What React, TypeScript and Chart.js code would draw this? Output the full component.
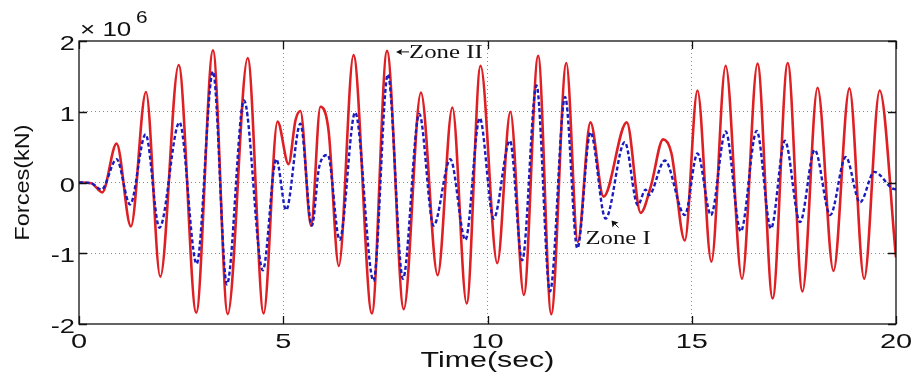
import React, { useEffect, useRef } from "react";
import { Chart, registerables } from "chart.js";

Chart.register(...registerables);

// Time axis (sec) for the red solid series (extrema)
const redTime = [
  0, 0.3, 0.57, 0.92, 1.27, 1.64, 1.99, 2.44, 2.87, 3.28, 3.64, 4.13, 4.52, 4.86,
  5.13, 5.3, 5.42, 5.68, 5.91, 6.11, 6.36, 6.72, 7.17, 7.54, 7.95, 8.37, 8.78, 9.14,
  9.49, 9.83, 10.24, 10.56, 10.89, 11.24, 11.56, 11.93, 12.21, 12.52, 12.84, 13.41,
  13.75, 14.0, 14.3, 14.5, 14.83, 15.14, 15.48, 15.83, 16.23, 16.61, 16.98, 17.35,
  17.71, 18.08, 18.47, 18.86, 19.22, 19.6, 20.0,
];
// Forces (×10^6 kN), red solid series
const redForce = [
  0, -0.01, -0.14, 0.55, -0.62, 1.28, -1.33, 1.66, -1.84, 1.87, -1.86, 1.76, -1.85, 0.86,
  0.26, 0.88, 1.01, -0.61, 1.07, 0.73, -1.18, 1.8, -1.85, 1.86, -1.79, 1.27, -1.31, 1.06,
  -1.71, 1.65, -1.14, 1.0, -1.59, 1.79, -1.86, 1.69, -0.84, 0.85, -0.2, 0.85,
  -0.43, -0.05, 0.61, 0.42, -0.82, 1.3, -1.12, 1.65, -1.36, 1.68, -1.64, 1.69,
  -1.54, 1.34, -1.25, 1.33, -1.36, 1.3, -1.06,
];

// Time axis (sec) for the blue dashed series
const blueTime = [
  0, 0.3, 0.55, 0.92, 1.25, 1.63, 1.97, 2.46, 2.88, 3.28, 3.62, 4.04, 4.5, 4.83,
  5.07, 5.42, 5.7, 5.88, 6.09, 6.38, 6.76, 7.21, 7.56, 7.93, 8.33, 8.68, 9.09, 9.46,
  9.81, 10.15, 10.55, 10.85, 11.2, 11.53, 11.9, 12.2, 12.52, 12.89, 13.36, 13.68,
  13.87, 13.95, 14.34, 14.83, 15.14, 15.47, 15.83, 16.2, 16.59, 16.94, 17.28, 17.65,
  18.01, 18.39, 18.77, 19.12, 19.47, 19.9, 20.0,
];
// Forces (×10^6 kN), blue dashed series
const blueForce = [
  0, -0.01, -0.1, 0.33, -0.31, 0.68, -0.64, 0.85, -1.15, 1.57, -1.44, 1.16, -1.24, 0.33,
  -0.39, 0.83, -0.61, 0.22, 0.39, -0.81, 0.99, -1.39, 1.53, -1.36, 0.97, -0.61, 0.33, -0.81,
  0.91, -0.51, 0.59, -1.1, 1.37, -1.54, 1.21, -0.93, 0.71, -0.51, 0.57, -0.32,
  -0.1, -0.18, 0.31, -0.46, 0.41, -0.46, 0.72, -0.69, 0.73, -0.65, 0.59, -0.56,
  0.46, -0.46, 0.36, -0.28, 0.15, -0.08, -0.1,
];

const xTicks = [0, 5, 10, 15, 20];
const yTicks = [-2, -1, 0, 1, 2];
const xTitle = "Time(sec)";
const yTitle = "Forces(kN)";
const yExponentBase = "× 10";
const yExponent = "6";
const zoneTwoLabel = "Zone II";
const zoneTwoPoint = { t: 7.54, v: 1.86 };
const zoneOneLabel = "Zone I";
const zoneOnePoint = { t: 12.89, v: -0.51 };

function drawText(
  ctx: CanvasRenderingContext2D,
  text: string,
  x: number,
  y: number,
  font: string,
  sx: number,
  align: CanvasTextAlign,
  rot = 0
) {
  ctx.save();
  ctx.translate(x, y);
  if (rot) ctx.rotate(rot);
  ctx.scale(sx, 1);
  ctx.font = font;
  ctx.textAlign = align;
  ctx.textBaseline = "alphabetic";
  ctx.fillStyle = "#111";
  ctx.fillText(text, 0, 0);
  ctx.restore();
}

export default function App() {
  const ref = useRef<HTMLCanvasElement>(null);

  useEffect(() => {
    const canvas = ref.current!;

    const framePlugin = {
      id: "matlabFrame",
      afterDraw(chart: any) {
        const { ctx, chartArea: a, scales } = chart;
        const xs = scales.x;
        const ys = scales.y;
        ctx.save();
        ctx.strokeStyle = "#111";
        ctx.lineWidth = 1.3;
        ctx.strokeRect(a.left, a.top, a.right - a.left, a.bottom - a.top);
        // inward tick marks
        const tl = 8;
        ctx.beginPath();
        xTicks.forEach((t) => {
          const px = Math.round(xs.getPixelForValue(t)) + 0.5;
          ctx.moveTo(px, a.bottom);
          ctx.lineTo(px, a.bottom - tl);
          ctx.moveTo(px, a.top);
          ctx.lineTo(px, a.top + tl);
        });
        yTicks.forEach((v) => {
          const py = Math.round(ys.getPixelForValue(v)) + 0.5;
          ctx.moveTo(a.left, py);
          ctx.lineTo(a.left + tl, py);
          ctx.moveTo(a.right, py);
          ctx.lineTo(a.right - tl, py);
        });
        ctx.stroke();

        // tick labels
        const tickFont = "21px 'Liberation Sans', Arial, sans-serif";
        xTicks.forEach((t) => {
          drawText(ctx, String(t), xs.getPixelForValue(t), a.bottom + 24, tickFont, 1.38, "center");
        });
        yTicks.forEach((v) => {
          drawText(ctx, String(v), a.left - 4, ys.getPixelForValue(v) + 9, tickFont, 1.3, "right");
        });
        // exponent
        drawText(ctx, yExponentBase, a.left + 1, a.top - 5, "20px 'Liberation Sans', Arial, sans-serif", 1.3, "left");
        drawText(ctx, yExponent, a.left + 57, a.top - 18, "16px 'Liberation Sans', Arial, sans-serif", 1.3, "left");
        // axis titles
        drawText(ctx, xTitle, (a.left + a.right) / 2, 367, "22px 'Liberation Sans', Arial, sans-serif", 1.38, "center");
        drawText(ctx, yTitle, 29, (a.top + a.bottom) / 2, "21px 'Liberation Sans', Arial, sans-serif", 1.12, "center", -Math.PI / 2);

        // Zone II annotation
        const z2x = xs.getPixelForValue(zoneTwoPoint.t) + 9;
        const z2y = ys.getPixelForValue(zoneTwoPoint.v) + 1;
        ctx.fillStyle = "#111";
        ctx.strokeStyle = "#111";
        ctx.lineWidth = 1;
        ctx.beginPath();
        ctx.moveTo(z2x + 2, z2y);
        ctx.lineTo(z2x + 13, z2y);
        ctx.stroke();
        ctx.beginPath();
        ctx.moveTo(z2x, z2y);
        ctx.lineTo(z2x + 6, z2y - 3);
        ctx.lineTo(z2x + 5, z2y);
        ctx.lineTo(z2x + 6, z2y + 3);
        ctx.closePath();
        ctx.fill();
        drawText(ctx, zoneTwoLabel, z2x + 13, z2y + 6, "18px 'Liberation Serif', 'Times New Roman', serif", 1.38, "left");

        // Zone I annotation
        const z1x = xs.getPixelForValue(zoneOnePoint.t) + 6;
        const z1y = ys.getPixelForValue(zoneOnePoint.v) + 2;
        ctx.beginPath();
        ctx.moveTo(z1x + 2, z1y + 2);
        ctx.lineTo(z1x + 7, z1y + 7);
        ctx.stroke();
        ctx.beginPath();
        ctx.moveTo(z1x, z1y);
        ctx.lineTo(z1x + 1, z1y + 7);
        ctx.lineTo(z1x + 3, z1y + 4);
        ctx.lineTo(z1x + 7, z1y + 2);
        ctx.closePath();
        ctx.fill();
        drawText(ctx, zoneOneLabel, xs.getPixelForValue(zoneOnePoint.t) - 20, 244, "18px 'Liberation Serif', 'Times New Roman', serif", 1.37, "left");
        ctx.restore();
      },
    };

    const gridColor = (c: any, lo: number, hi: number) =>
      c.tick && (c.tick.value === lo || c.tick.value === hi) ? "rgba(0,0,0,0)" : "#8a8a8a";

    const chart = new Chart(canvas, {
      type: "line",
      data: {
        datasets: [
          {
            label: "Zone I",
            data: blueTime.map((t, i) => ({ x: t, y: blueForce[i] })),
            borderColor: "rgb(28,28,190)",
            borderWidth: 2.4,
            borderDash: [4, 2.5],
            pointRadius: 0,
            fill: false,
            tension: 0.4,
            cubicInterpolationMode: "monotone",
          },
          {
            label: "Zone II",
            data: redTime.map((t, i) => ({ x: t, y: redForce[i] })),
            borderColor: "rgb(222,32,36)",
            borderWidth: 2.6,
            pointRadius: 0,
            fill: false,
            tension: 0.4,
            cubicInterpolationMode: "monotone",
          },
        ],
      },
      options: {
        animation: false,
        responsive: false,
        events: [],
        layout: { padding: { left: 0, top: 41, right: 17, bottom: 0 } },
        plugins: { legend: { display: false }, tooltip: { enabled: false }, title: { display: false } },
        scales: {
          x: {
            type: "linear",
            min: 0,
            max: 20,
            ticks: { stepSize: 5, display: false },
            grid: { color: (c: any) => gridColor(c, 0, 20), lineWidth: 1, drawTicks: false, tickLength: 0 },
            border: { display: false, dash: [1, 3] },
            afterFit: (s: any) => {
              s.height = 54;
            },
          },
          y: {
            type: "linear",
            min: -2,
            max: 2,
            ticks: { stepSize: 1, display: false },
            grid: { color: (c: any) => gridColor(c, -2, 2), lineWidth: 1, drawTicks: false, tickLength: 0 },
            border: { display: false, dash: [1, 3] },
            afterFit: (s: any) => {
              s.width = 79;
            },
          },
        },
      },
      plugins: [framePlugin],
    });
    return () => chart.destroy();
  }, []);

  return (
    <div style={{ position: "fixed", left: 0, top: 0, width: 913, height: 378, background: "#fff" }}>
      <canvas ref={ref} width={913} height={378} style={{ display: "block" }} />
    </div>
  );
}
